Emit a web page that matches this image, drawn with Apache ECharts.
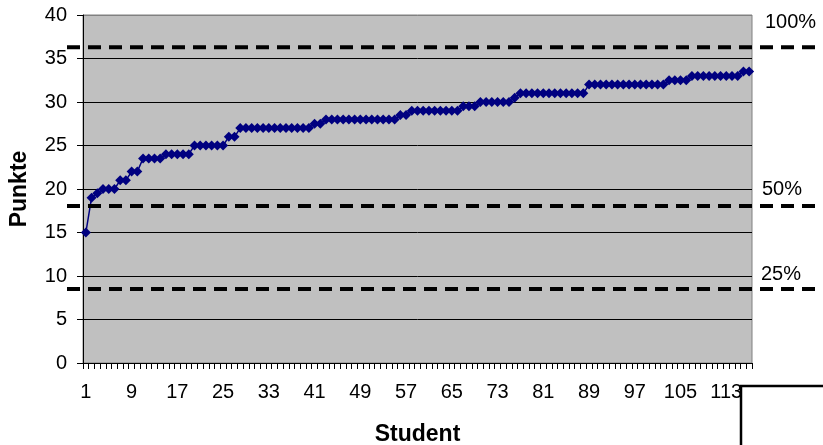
<!DOCTYPE html>
<html>
<head>
<meta charset="utf-8">
<script src="https://cdn.jsdelivr.net/npm/echarts@6/dist/echarts.min.js"></script>
<style>
html,body{margin:0;padding:0;background:#fff;}
#chart{width:823px;height:445px;}
</style>
</head>
<body>
<div id="chart"></div>
<script>
// ---- data ----
var studentCount = 117;
var students = [];
for (var i = 1; i <= studentCount; i++) students.push(String(i));

var scores = [
  15, 19, 19.5, 20, 20, 20, 21, 21, 22, 22,
  23.5, 23.5, 23.5, 23.5, 24, 24, 24, 24, 24, 25,
  25, 25, 25, 25, 25, 26, 26, 27, 27, 27,
  27, 27, 27, 27, 27, 27, 27, 27, 27, 27,
  27.5, 27.5, 28, 28, 28, 28, 28, 28, 28, 28,
  28, 28, 28, 28, 28, 28.5, 28.5, 29, 29, 29,
  29, 29, 29, 29, 29, 29, 29.5, 29.5, 29.5, 30,
  30, 30, 30, 30, 30, 30.5, 31, 31, 31, 31,
  31, 31, 31, 31, 31, 31, 31, 31, 32, 32,
  32, 32, 32, 32, 32, 32, 32, 32, 32, 32,
  32, 32, 32.5, 32.5, 32.5, 32.5, 33, 33, 33, 33,
  33, 33, 33, 33, 33, 33.5, 33.5
];

var thresholdNames = ['100%', '50%', '25%'];
var thresholdValues = [36.3, 18.05, 8.5];

var yTicks = { min: 0, max: 40, interval: 5 };

// ---- chart ----
var FONT = 'Arial, "Liberation Sans", sans-serif';
var chart = echarts.init(document.getElementById('chart'), null, { renderer: 'canvas' });

var labelOffsets = [[-50, -35], [-53, -26], [-54, -25]];

var thresholdSeries = thresholdValues.map(function (v, k) {
  return {
    type: 'line',
    xAxisIndex: 1,
    yAxisIndex: 1,
    symbol: 'circle',
    symbolSize: 0,
    silent: true,
    z: 5,
    lineStyle: { color: '#000', width: 4, type: [13, 8], cap: 'butt' },
    data: [
      [0, v],
      {
        value: [1, v],
        label: {
          show: true,
          formatter: thresholdNames[k],
          position: labelOffsets[k],
          fontSize: 20,
          fontFamily: FONT,
          color: '#000'
        }
      }
    ]
  };
});

var splitColors = [];
for (var t = yTicks.min; t <= yTicks.max; t += yTicks.interval) {
  splitColors.push(t === yTicks.max ? '#808080' : '#000');
}

chart.setOption({
  animation: false,
  grid: [
    {
      left: 83, right: 71, top: 15, bottom: 82,
      containLabel: false, outerBoundsMode: 'none',
      show: true, backgroundColor: '#C0C0C0', borderColor: '#808080', borderWidth: 1
    },
    { left: 67, right: 8, top: 15, bottom: 82, containLabel: false, outerBoundsMode: 'none' }
  ],
  xAxis: [
    {
      type: 'category',
      gridIndex: 0,
      data: students,
      boundaryGap: true,
      name: 'Student',
      nameLocation: 'middle',
      nameGap: 60,
      nameTextStyle: { fontSize: 23, fontWeight: 'bold', fontFamily: FONT, color: '#000' },
      axisLine: { show: true, lineStyle: { color: '#000', width: 1 } },
      axisTick: { show: true, interval: 0, length: 6, lineStyle: { color: '#000' } },
      axisLabel: { interval: 7, fontSize: 20, fontFamily: FONT, color: '#000', margin: 19 },
      splitLine: { show: false }
    },
    { type: 'value', gridIndex: 1, min: 0, max: 1, show: false }
  ],
  yAxis: [
    {
      type: 'value',
      gridIndex: 0,
      min: yTicks.min, max: yTicks.max, interval: yTicks.interval,
      name: 'Punkte',
      nameLocation: 'middle',
      nameGap: 52,
      nameTextStyle: { fontSize: 23, fontWeight: 'bold', fontFamily: FONT, color: '#000' },
      axisLine: { show: true, lineStyle: { color: '#000', width: 1 } },
      axisTick: { show: true, length: 6, lineStyle: { color: '#000' } },
      axisLabel: { fontSize: 20, fontFamily: FONT, color: '#000', margin: 16 },
      splitLine: { show: true, lineStyle: { color: splitColors, width: 1 } }
    },
    { type: 'value', gridIndex: 1, min: yTicks.min, max: yTicks.max, show: false }
  ],
  series: [
    {
      type: 'line',
      xAxisIndex: 0,
      yAxisIndex: 0,
      data: scores,
      symbol: 'diamond',
      symbolSize: 10,
      showAllSymbol: true,
      z: 3,
      lineStyle: { color: '#000080', width: 1.5 },
      itemStyle: { color: '#000080' }
    }
  ].concat(thresholdSeries),
  graphic: [
    {
      type: 'rect',
      z: 100,
      shape: { x: 741, y: 386, width: 100, height: 80 },
      style: { fill: '#fff', stroke: '#000', lineWidth: 2.5 }
    }
  ]
});
</script>
</body>
</html>
